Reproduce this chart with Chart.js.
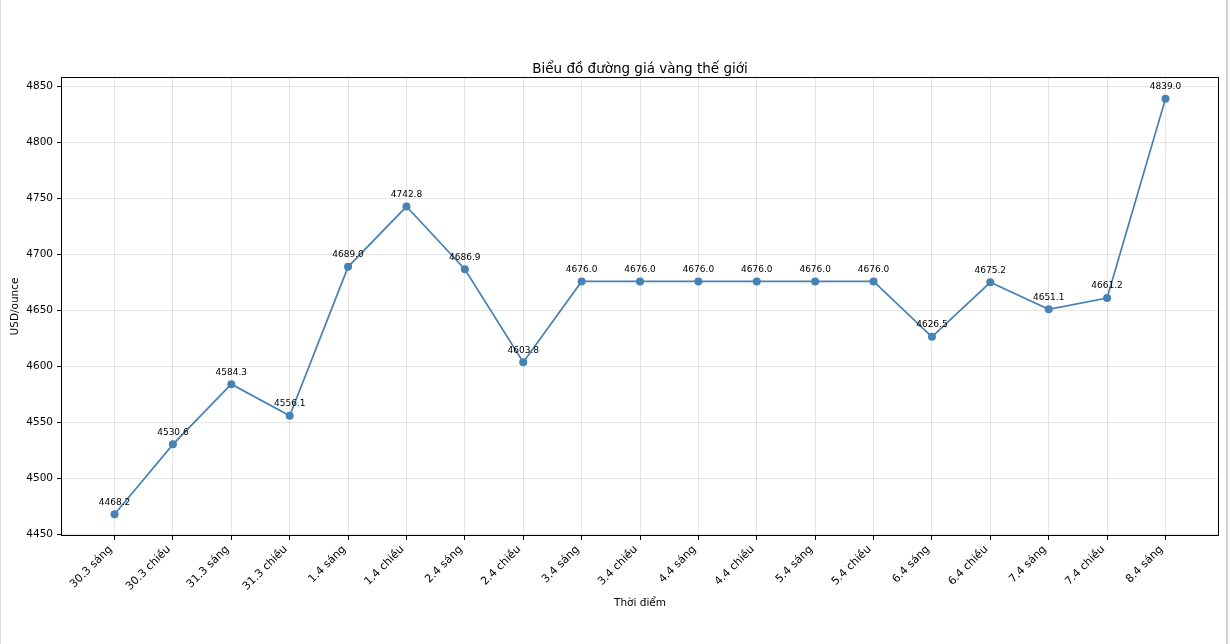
<!DOCTYPE html>
<html>
<head>
<meta charset="utf-8">
<title>Biểu đồ đường giá vàng thế giới</title>
<script src="https://cdn.jsdelivr.net/npm/chart.js@4.4.1/dist/chart.umd.min.js"></script>
<style>
  html, body { margin: 0; padding: 0; background: #fff; }
  #wrap { position: relative; width: 1230px; height: 644px; overflow: hidden; }
  #edgeLeft { position: absolute; left: 0; top: 0; width: 1px; height: 644px; background: #dcdcdc; }
  #edgeRight { position: absolute; left: 1226px; top: 0; width: 2px; height: 644px; background: #d0d0d0; }
</style>
</head>
<body>
<div id="wrap">
  <canvas id="chartCanvas" width="1230" height="644"></canvas>
  <div id="edgeLeft"></div>
  <div id="edgeRight"></div>
</div>
<script>
// Data
const timeLabels = [
  "30.3 sáng", "30.3 chiều", "31.3 sáng", "31.3 chiều",
  "1.4 sáng", "1.4 chiều", "2.4 sáng", "2.4 chiều",
  "3.4 sáng", "3.4 chiều", "4.4 sáng", "4.4 chiều",
  "5.4 sáng", "5.4 chiều", "6.4 sáng", "6.4 chiều",
  "7.4 sáng", "7.4 chiều", "8.4 sáng",
];
const goldPrices = [
  4468.2, 4530.6, 4584.3, 4556.1,
  4689.0, 4742.8, 4686.9, 4603.8,
  4676.0, 4676.0, 4676.0, 4676.0,
  4676.0, 4676.0, 4626.5, 4675.2,
  4651.1, 4661.2, 4839.0,
];
const yTicks = [4450, 4500, 4550, 4600, 4650, 4700, 4750, 4800, 4850];

const lineColor = "#4682b4"; // steelblue
const gridColor = "rgba(176, 176, 176, 0.32)";

Chart.defaults.font.family = "'DejaVu Sans', sans-serif";
Chart.defaults.color = "#000";

// Value labels above each point
const pointLabels = {
  id: "pointLabels",
  afterDatasetsDraw(chart) {
    const ctx = chart.ctx;
    const meta = chart.getDatasetMeta(0);
    ctx.save();
    ctx.font = "9px 'DejaVu Sans'";
    ctx.fillStyle = "#000";
    ctx.textAlign = "center";
    ctx.textBaseline = "middle";
    meta.data.forEach((pt, i) => {
      ctx.fillText(goldPrices[i].toFixed(1), pt.x, pt.y - 12);
    });
    ctx.restore();
  },
};

// Black frame round the plot area (matplotlib spines)
const axesFrame = {
  id: "axesFrame",
  afterDraw(chart) {
    const { left, top, right, bottom } = chart.chartArea;
    const ctx = chart.ctx;
    ctx.save();
    ctx.strokeStyle = "#000";
    ctx.lineWidth = 1;
    ctx.strokeRect(Math.round(left) - 0.5, Math.round(top) - 0.5,
      Math.round(right - left) + 1, Math.round(bottom - top) + 1);
    ctx.restore();
  },
};

const ctx = document.getElementById("chartCanvas").getContext("2d");
const chart = new Chart(ctx, {
  type: "line",
  data: {
    datasets: [
      {
        label: "Giá vàng",
        data: goldPrices.map((v, i) => ({ x: i, y: v })),
        borderColor: lineColor,
        backgroundColor: lineColor,
        borderWidth: 1.7,
        pointRadius: 4,
        pointBorderWidth: 0,
        pointBackgroundColor: lineColor,
        tension: 0,
        fill: false,
      },
    ],
  },
  options: {
    responsive: false,
    animation: false,
    layout: { padding: { top: 61.5, right: 12, left: 0, bottom: 0 } },
    plugins: {
      legend: { display: false },
      tooltip: { enabled: false },
      title: {
        display: true,
        fullSize: false,
        text: "Biểu đồ đường giá vàng thế giới",
        font: { size: 13.5, weight: "normal" },
        color: "#000",
        padding: { top: 0, bottom: 0.3 },
      },
    },
    scales: {
      x: {
        type: "linear",
        bounds: "data",
        min: -0.9,
        max: 18.9,
        afterFit: (scale) => { scale.height = 109; },
        afterBuildTicks: (scale) => {
          scale.ticks = timeLabels.map((_, i) => ({ value: i }));
        },
        border: { display: false },
        grid: { color: gridColor, tickColor: "#000", tickLength: 5 },
        ticks: {
          autoSkip: false,
          minRotation: 45,
          maxRotation: 45,
          padding: 3,
          labelOffset: -4,
          font: { size: 11 },
          callback: (v) => timeLabels[v],
        },
        title: {
          display: true,
          text: "Thời điểm",
          font: { size: 10.5 },
          padding: { top: 0, bottom: 34.7 },
        },
      },
      y: {
        type: "linear",
        bounds: "data",
        min: 4449.7,
        max: 4857.5,
        afterFit: (scale) => { scale.width = 62; },
        afterBuildTicks: (scale) => {
          scale.ticks = yTicks.map((v) => ({ value: v }));
        },
        border: { display: false },
        grid: { color: gridColor, tickColor: "#000", tickLength: 5 },
        ticks: {
          padding: 4,
          font: { size: 10.5 },
          callback: (v) => String(v),
        },
        title: {
          display: true,
          text: "USD/ounce",
          font: { size: 10.5 },
          padding: { top: 8.7, bottom: 0 },
        },
      },
    },
  },
  plugins: [pointLabels, axesFrame],
});
</script>
</body>
</html>
